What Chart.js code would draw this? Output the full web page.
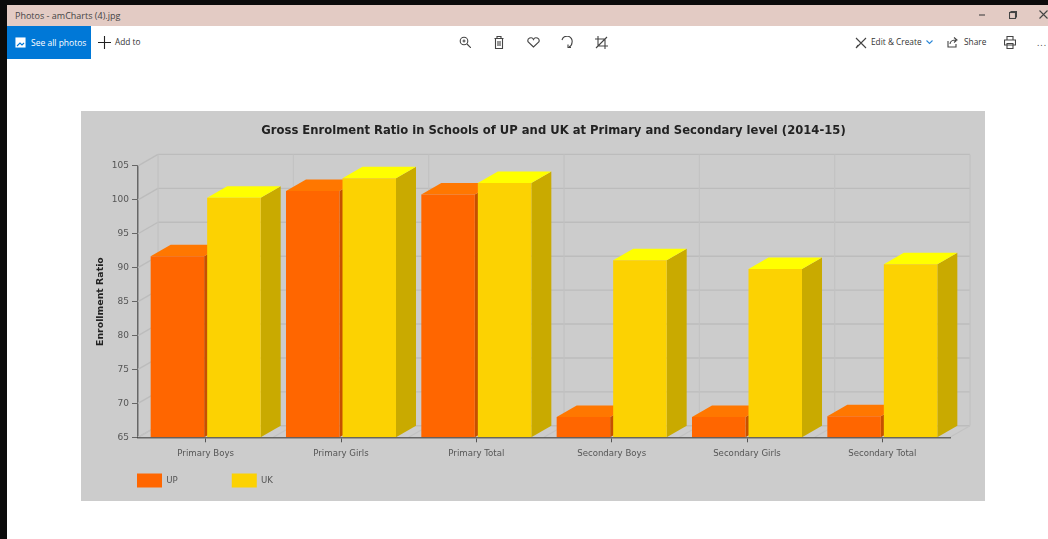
<!DOCTYPE html>
<html>
<head>
<meta charset="utf-8">
<title>Gross Enrolment Ratio</title>
<script src="https://cdn.jsdelivr.net/npm/chart.js@4/dist/chart.umd.min.js"></script>
<style>
html, body { margin: 0; padding: 0; background: #0b0b0b; overflow: hidden; }
body { width: 1048px; height: 539px; position: relative; font-family: "Open Sans", "Noto Sans", sans-serif; }
.abs { position: absolute; }
#win { left: 7px; top: 5px; width: 1041px; height: 534px; background: #fff; }
#titlebar { left: 7px; top: 5px; width: 1041px; height: 21px; background: #e3cbc4; }
#titlebar span { position: absolute; left: 8px; top: 4px; font-size: 9px; color: #444; }
#allphotos { left: 7px; top: 26px; width: 84px; height: 33px; background: #0078d7; color: #fff; font-size: 8.5px; line-height: 33px; }
.tool { font-size: 8.3px; color: #333; line-height: 12px; }
svg.abs { fill: none; stroke: #444; stroke-width: 1.1; }
#panel { left: 81px; top: 111px; width: 904px; height: 390px; background: #cccccc; }
#chartbox { left: 81px; top: 111px; width: 904px; height: 390px; filter: blur(0.35px); }
</style>
</head>
<body>
<div class="abs" id="win"></div>
<div class="abs" id="titlebar"><span>Photos - amCharts (4).jpg</span></div>
<div class="abs" id="allphotos"><span style="position:absolute;left:24px">See all photos</span></div>
<svg class="abs" style="left:15px;top:37px;stroke:#fff" width="11" height="11"><rect x="1" y="1" width="9" height="9" fill="#fff"/><path d="M2 9l3-3 2 2 2-2" stroke="#0078d7"/></svg>
<svg class="abs" style="left:98px;top:36px;stroke:#222" width="13" height="13"><path d="M6.5 0v13M0 6.500h13"/></svg>
<div class="abs tool" style="left:115px;top:36px">Add to</div>
<svg class="abs" style="left:459px;top:36px" width="12" height="12"><circle cx="5" cy="5" r="3.800"/><path d="M8 8l4 4M3.500 5h3M5 3.500v3"/></svg>
<svg class="abs" style="left:494px;top:36px" width="10" height="13"><path d="M0.500 2.500h9M3 2.500V0.500h4v2M1.500 2.500v10h7v-10M4 5v5M6 5v5"/></svg>
<svg class="abs" style="left:527px;top:37px" width="13" height="11"><path d="M6.500 10L1.200 5A2.900 2.900 0 0 1 6.500 2.500 2.900 2.900 0 0 1 11.800 5Z"/></svg>
<svg class="abs" style="left:561px;top:36px" width="13" height="13"><path d="M1 4A5 5 0 0 1 11 6.500 5 5 0 0 1 8 11M7 8.500v3h3"/></svg>
<svg class="abs" style="left:595px;top:36px" width="13" height="13"><path d="M3 0v10h10M0 3h10v10M1 12L12 1"/></svg>
<svg class="abs" style="left:855px;top:37px" width="12" height="12"><path d="M1 1l10 10M11 1L1 11M3 8l-2 3M9 3l2-2"/></svg>
<div class="abs tool" style="left:871px;top:36px">Edit &amp; Create</div>
<svg class="abs" style="left:926px;top:40px;stroke:#2b88d8" width="7" height="5"><path d="M0.500 0.500l3 3 3-3"/></svg>
<svg class="abs" style="left:947px;top:37px" width="12" height="11"><path d="M1 4v6h8V7M3 7c0-3 3-4 6-4M7 0.500l3 2.500-3 2.500"/></svg>
<div class="abs tool" style="left:964px;top:36px">Share</div>
<svg class="abs" style="left:1004px;top:36px" width="12" height="13"><path d="M3 4V0.500h6V4M0.500 4h11v5h-11zM3 7.500h6v5H3z"/></svg>
<div class="abs" style="left:1037px;top:36px;font-size:9px;color:#444;letter-spacing:1px">...</div>
<svg class="abs" style="left:978px;top:12px" width="8" height="6"><path d="M1 3h6"/></svg>
<svg class="abs" style="left:1009px;top:11px" width="8" height="8"><rect x="0.500" y="1.500" width="6" height="6"/><path d="M2 1.500V0.500h5.500v5.500h-1"/></svg>
<svg class="abs" style="left:1039px;top:10px" width="9" height="9"><path d="M0.500 0.500l8 8M8.500 0.500l-8 8"/></svg>
<div class="abs" id="panel"></div>
<div class="abs" id="chartbox"><canvas id="enrolChart" width="904" height="390"></canvas></div>
<script>
var categories = ["Primary Boys", "Primary Girls", "Primary Total", "Secondary Boys", "Secondary Girls", "Secondary Total"];
var upValues = [91.7, 101.3, 100.8, 68, 68, 68.1];
var ukValues = [100.3, 103.2, 102.5, 91.1, 89.8, 90.5];
var seriesNames = ["UP", "UK"];
var titleText = "Gross Enrolment Ratio in Schools of UP and UK at Primary and Secondary level (2014-15)";

// depth of the fake 3d look
var depthX = 20;
var depthY = -11.5;
var legendPadding = 54;

function face(ctx, pts, color) {
    ctx.fillStyle = color;
    ctx.beginPath();
    ctx.moveTo(pts[0][0], pts[0][1]);
    for (var i = 1; i < pts.length; i++) ctx.lineTo(pts[i][0], pts[i][1]);
    ctx.closePath();
    ctx.fill();
}

function line(ctx, x1, y1, x2, y2) {
    ctx.beginPath();
    ctx.moveTo(x1, y1);
    ctx.lineTo(x2, y2);
    ctx.stroke();
}

var depth3d = {
    id: "depth3d",
    afterLayout: function (chart) {
        // title sits over the whole 3d plot, not over the canvas centre
        var t = chart.titleBlock;
        t.left = 0;
        t.right = 945;
        // legend items start a padding below and right of the box
        var lg = chart.legend;
        lg.left = 2;
        lg.right = 904;
        lg.top = 362.5 - legendPadding;
        lg.bottom = 390;
    },
    beforeDatasetsDraw: function (chart) {
        var ctx = chart.ctx, area = chart.chartArea;
        var ys = chart.scales.y;
        var step = (area.right - area.left) / categories.length;
        ctx.save();
        ctx.strokeStyle = "#bcbcbc";
        ctx.lineWidth = 1.4;
        ys.ticks.forEach(function (t) {
            var py = ys.getPixelForValue(t.value);
            line(ctx, area.left, py, area.left + depthX, py + depthY);
            line(ctx, area.left + depthX, py + depthY, area.right + depthX, py + depthY);
        });
        ctx.strokeStyle = "#c2c2c2";
        ctx.lineWidth = 1.2;
        for (var i = 0; i <= categories.length; i++) {
            var px = area.left + step * i;
            line(ctx, px, area.bottom, px + depthX, area.bottom + depthY);
            line(ctx, px + depthX, area.bottom + depthY, px + depthX, area.top + depthY);
        }
        var shades = [
            { top: "#ff7700", side: "#c65000" },
            { top: "#ffff00", side: "#c9aa00" }
        ];
        chart.data.datasets.forEach(function (ds, d) {
            chart.getDatasetMeta(d).data.forEach(function (bar) {
                var p = bar.getProps(["x", "y", "width"], true);
                var l = p.x - p.width / 2, r = p.x + p.width / 2, b = area.bottom;
                face(ctx, [[r, p.y], [r + depthX, p.y + depthY], [r + depthX, b + depthY], [r, b]], shades[d].side);
                face(ctx, [[l, p.y], [l + depthX, p.y + depthY], [r + depthX, p.y + depthY], [r, p.y]], shades[d].top);
            });
        });
        ctx.restore();
    }
};

new Chart("enrolChart", {
    type: "bar",
    data: {
        labels: categories,
        datasets: [
            { label: seriesNames[0], data: upValues, backgroundColor: "#ff6600" },
            { label: seriesNames[1], data: ukValues, backgroundColor: "#fcd202" }
        ]
    },
    plugins: [depth3d],
    options: {
        responsive: false,
        animation: false,
        categoryPercentage: 0.835,
        barPercentage: 0.947,
        layout: { padding: { left: 0, right: 35, top: 0, bottom: 0 } },
        plugins: {
            tooltip: { enabled: false },
            title: {
                display: true,
                text: titleText,
                color: "#222222",
                font: { family: "DejaVu Sans", size: 11.6, weight: "bold" },
                padding: { top: 13, bottom: 28 }
            },
            legend: {
                position: "bottom",
                align: "start",
                maxHeight: 35,
                labels: {
                    boxWidth: 25,
                    boxHeight: 14,
                    padding: legendPadding,
                    color: "#555555",
                    font: { family: "DejaVu Sans", size: 8.6 }
                }
            }
        },
        scales: {
            x: {
                afterFit: function (s) { s.height = 28.7; },
                grid: { display: true, drawOnChartArea: false, offset: false, tickLength: 5, tickColor: "#555555" },
                border: { color: "rgba(60,60,60,0.7)", width: 1.5, z: 1 },
                ticks: { color: "#555555", font: { family: "DejaVu Sans", size: 8.6 }, padding: 6, maxRotation: 0 }
            },
            y: {
                min: 65,
                max: 105,
                afterFit: function (s) { s.width = 57; },
                grid: { drawOnChartArea: false, tickLength: 6, tickColor: "#666666" },
                border: { color: "#666666", width: 1.5 },
                ticks: { stepSize: 5, color: "#555555", font: { family: "DejaVu Sans", size: 9 }, padding: 3 },
                title: {
                    display: true,
                    text: "Enrollment Ratio",
                    color: "#222222",
                    font: { family: "DejaVu Sans", size: 9.4, weight: "bold" },
                    padding: { top: 14, bottom: 4 }
                }
            }
        }
    }
});
</script>
</body>
</html>
